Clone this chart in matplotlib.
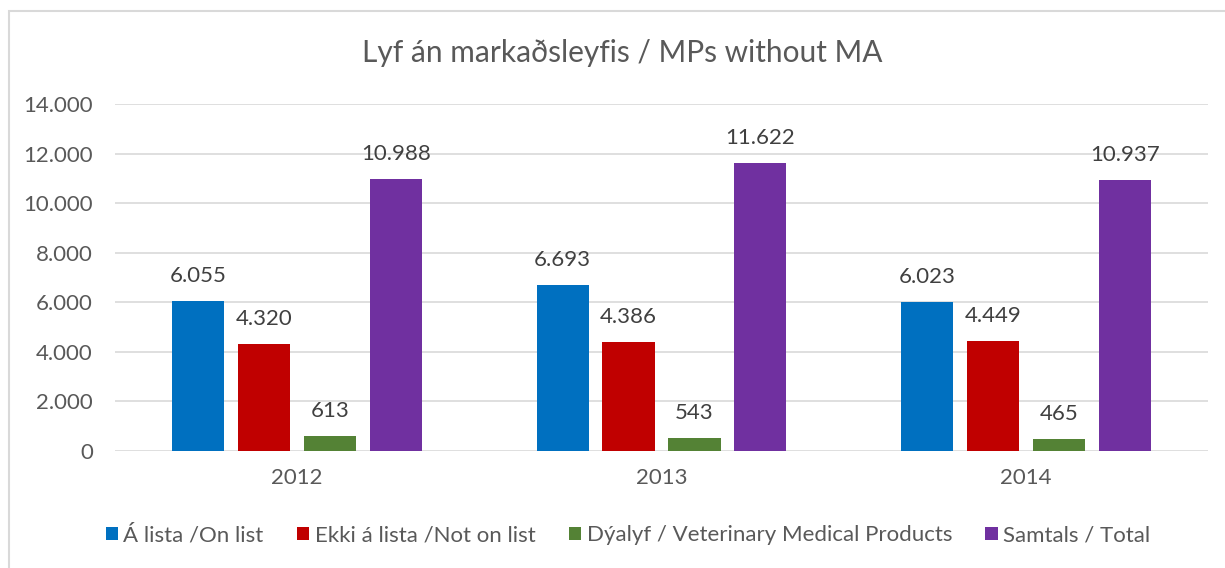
import numpy as np
import matplotlib.pyplot as plt
from matplotlib.patches import Rectangle
from matplotlib.ticker import FuncFormatter

years = ["2012", "2013", "2014"]
series_names = ["Á lista /On list", "Ekki á lista /Not on list",
                "Dýalyf / Veterinary Medical Products", "Samtals / Total"]
on_list = [6055, 6693, 6023]
not_on_list = [4320, 4386, 4449]
veterinary = [613, 543, 465]
total = [10988, 11622, 10937]
colors = ["#0070C0", "#C00000", "#548235", "#7030A0"]

plt.rcParams['font.family'] = ['Lato', 'DejaVu Sans']

fig = plt.figure(figsize=(12.25, 5.68), dpi=100)
# chart area border
fig.patches.append(Rectangle((9 / 1225, -0.1), 1.2, 1 - 11 / 568 + 0.1,
                             transform=fig.transFigure, fill=False,
                             edgecolor="#D9D9D9", linewidth=1.5))
ax = fig.add_axes([115 / 1225, 1 - 451 / 568, (1208 - 115) / 1225, 347 / 568])

x = np.arange(len(years))
step = 0.181
width = 0.143
all_series = [on_list, not_on_list, veterinary, total]
for i, (vals, name, col) in enumerate(zip(all_series, series_names, colors)):
    pos = x + (i - 1.5) * step
    bars = ax.bar(pos, vals, width, color=col, label=name, zorder=3)
    for b, v in zip(bars, vals):
        ax.annotate(f"{v:,}".replace(",", "."),
                    (b.get_x() + b.get_width() / 2, v),
                    xytext=(0, 18), textcoords="offset points",
                    ha="center", va="center", fontsize=16, color="#404040")

ax.set_xlim(-0.5, 2.5)
ax.set_ylim(0, 14000)
ax.set_yticks(range(0, 14001, 2000))
ax.yaxis.set_major_formatter(FuncFormatter(lambda v, p: f"{int(v):,}".replace(",", ".")))
ax.set_xticks(x)
ax.set_xticklabels(years)
ax.grid(axis="y", color="#D9D9D9", linewidth=1.2, zorder=0)
for s in ax.spines.values():
    s.set_visible(False)
ax.tick_params(axis="both", length=0, labelsize=16, colors="#595959")
ax.tick_params(axis="y", pad=16)
ax.tick_params(axis="x", pad=12)

fig.text(622 / 1225, 1 - 53 / 568, "Lyf án markaðsleyfis / MPs without MA",
         ha="center", va="center", fontsize=21.5, color="#595959")

fig.legend(loc="center", bbox_to_anchor=(628 / 1225, 1 - 535 / 568), ncol=4,
           frameon=False, fontsize=16, handlelength=0.55, handleheight=0.55,
           handletextpad=0.25, columnspacing=1.5, labelcolor="#595959")

fig.savefig("out.png", dpi=100)
